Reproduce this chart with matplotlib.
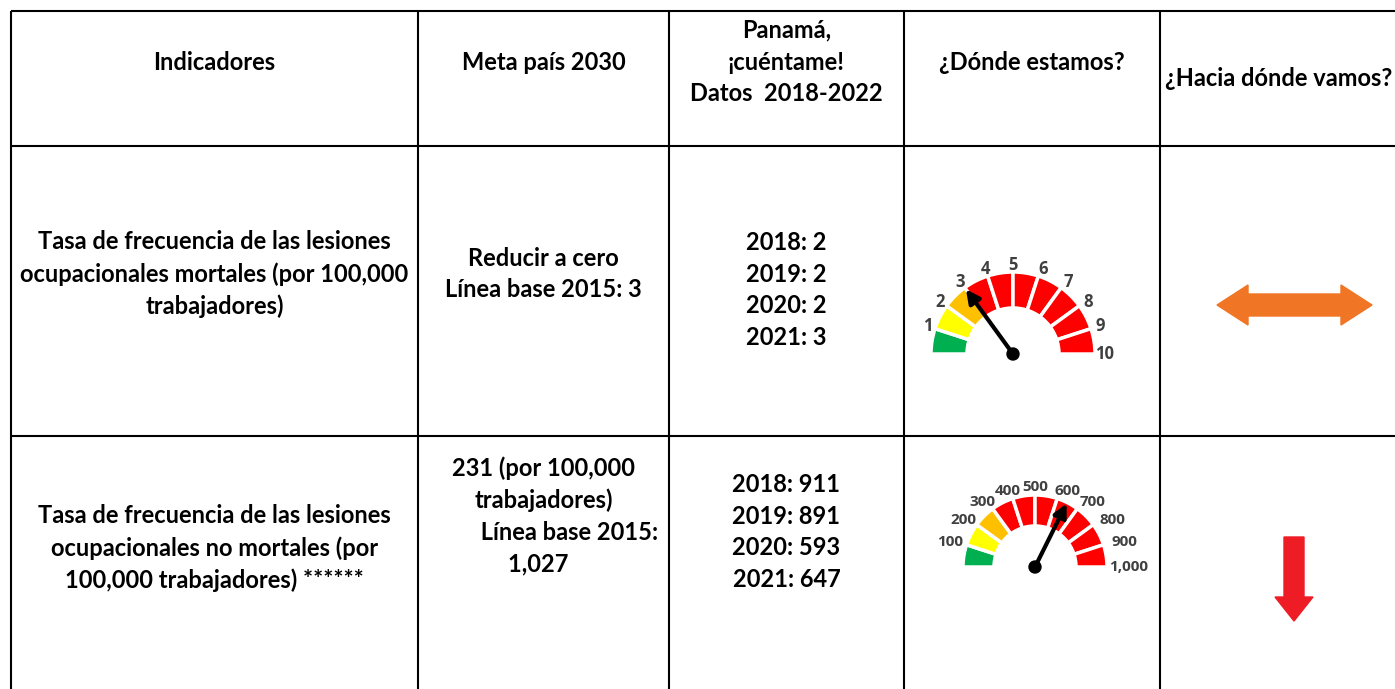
import matplotlib
matplotlib.use("Agg")
import matplotlib.pyplot as plt
from matplotlib.patches import Wedge, Circle, Polygon
import numpy as np

W, H = 1395, 689

# table content
columns = ["Indicadores", "Meta país 2030", "Panamá,\n¡cuéntame!\nDatos  2018-2022",
           "¿Dónde estamos?", "¿Hacia dónde vamos?"]
indicators = ["Tasa de frecuencia de las lesiones\nocupacionales mortales (por 100,000\ntrabajadores)",
              "Tasa de frecuencia de las lesiones\nocupacionales no mortales (por\n100,000 trabajadores) ******"]
metas = ["Reducir a cero\nLínea base 2015: 3",
         "231 (por 100,000\ntrabajadores)\n         Línea base 2015:\n1,027  "]
years = [2018, 2019, 2020, 2021]
mortal = [2, 2, 2, 3]
no_mortal = [911, 891, 593, 647]
series = [mortal, no_mortal]

# gauges
gauge_ticks = [[1, 2, 3, 4, 5, 6, 7, 8, 9, 10],
               [100, 200, 300, 400, 500, 600, 700, 800, 900, 1000]]
gauge_colors = ["#00b050", "#ffff00", "#ffc000"] + ["#ff0000"] * 7
trend = ["both", "down"]

# layout (pixels): cx, cy, r_out, r_in, needle, fontsize, label rx, label ry, right shift
col_x = [11, 418, 669, 904, 1160, 1420]
row_y = [11, 146, 436, 700]
gauge_pos = [(1013, 354, 82, 46, 80, 12, 90, 89, 2),
             (1035, 567, 72, 41, 71, 11, 89, 80, 5)]

fig = plt.figure(figsize=(W / 100, H / 100), dpi=100)
ax = fig.add_axes([0, 0, 1, 1])
ax.set_xlim(0, W)
ax.set_ylim(H, 0)
ax.axis('off')

FONT = "Lato"
txt = dict(family=FONT, fontweight="bold", fontsize=17, color="black",
           ha="center", va="center", multialignment="center", linespacing=1.46)

# grid
for x in col_x[:-1]:
    ax.plot([x, x], [row_y[0], H + 5], color="black", lw=1.5, solid_capstyle="butt")
for y in row_y[:-1]:
    ax.plot([col_x[0], W + 5], [y, y], color="black", lw=1.5, solid_capstyle="butt")

# headers
for i, c in enumerate(columns[:4]):
    ax.text((col_x[i] + col_x[i + 1]) / 2, 62, c, **txt)
ax.text(1165, 78, columns[4], **{**txt, "ha": "left"})

# rows
for r in range(2):
    ax.text((col_x[0] + col_x[1]) / 2, [274, 548][r], indicators[r], **txt)
    ax.text((col_x[1] + col_x[2]) / 2, [274, 516][r], metas[r], **txt)
    lines = "\n".join(f"{yr}: {v}" for yr, v in zip(years, series[r]))
    ax.text((col_x[2] + col_x[3]) / 2, [290, 532][r], lines, **txt)

# gauges
for g in range(2):
    cx, cy, ro, ri, nl, fs, rx, ry, rs = gauge_pos[g]
    ticks = gauge_ticks[g]
    vmax = ticks[-1]
    for i in range(10):
        a1 = 180 - 18 * (i + 1)
        a2 = 180 - 18 * i
        ax.add_patch(Wedge((cx, cy), ro, -a2, -a1, width=ro - ri,
                           facecolor=gauge_colors[i], edgecolor="white", lw=2.5))
        lab = f"{ticks[i]:,}"
        a = np.radians(a1)
        x = cx + rx * np.cos(a) + (rs if np.cos(a) > 0.1 else 0)
        y = cy - ry * np.sin(a)
        ax.text(x, y, lab, family="Open Sans", fontweight="bold", fontsize=fs,
                color="#404040", ha="center", va="center")
    val = series[g][-1]
    a = np.radians(180 - 180 * val / vmax)
    tip = (cx + nl * np.cos(a), cy - nl * np.sin(a))
    ax.annotate("", xy=tip, xytext=(cx, cy),
                arrowprops=dict(arrowstyle="-|>", lw=3, color="black",
                                mutation_scale=20, shrinkA=0, shrinkB=0))
    ax.add_patch(Circle((cx, cy), 6, color="black", zorder=5))

# trend arrows
def double_arrow(x0, x1, yc, shaft, head, hl, color):
    pts = [(x0, yc), (x0 + hl, yc - head / 2), (x0 + hl, yc - shaft / 2),
           (x1 - hl, yc - shaft / 2), (x1 - hl, yc - head / 2), (x1, yc),
           (x1 - hl, yc + head / 2), (x1 - hl, yc + shaft / 2),
           (x0 + hl, yc + shaft / 2), (x0 + hl, yc + head / 2)]
    ax.add_patch(Polygon(pts, closed=True, color=color))

def down_arrow(xc, y0, y1, shaft, head, hl, color):
    pts = [(xc - shaft / 2, y0), (xc + shaft / 2, y0), (xc + shaft / 2, y1 - hl),
           (xc + head / 2, y1 - hl), (xc, y1), (xc - head / 2, y1 - hl),
           (xc - shaft / 2, y1 - hl)]
    ax.add_patch(Polygon(pts, closed=True, color=color))

for r, t in enumerate(trend):
    if t == "both":
        double_arrow(1217, 1372, 305, 22, 40, 31, "#f07524")
    else:
        down_arrow(1294, 537, 621, 20, 38, 24, "#ee1c25")

fig.savefig("out.png", dpi=100)
